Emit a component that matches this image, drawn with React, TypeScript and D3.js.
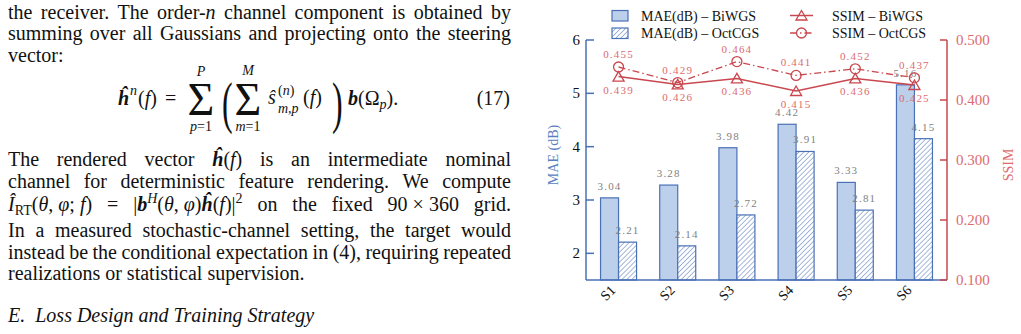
import React, { useEffect, useRef } from "react";
import * as d3 from "d3";

// chart data
const categories = ["S1", "S2", "S3", "S4", "S5", "S6"];
const maeBiWGS = [3.04, 3.28, 3.98, 4.42, 3.33, 5.16];
const maeOctCGS = [2.21, 2.14, 2.72, 3.91, 2.81, 4.15];
const ssimBiWGS = [0.439, 0.426, 0.436, 0.415, 0.436, 0.425];
const ssimOctCGS = [0.455, 0.429, 0.464, 0.441, 0.452, 0.437];
const maeTicks = [2, 3, 4, 5, 6];
const ssimTicks = [0.1, 0.2, 0.3, 0.4, 0.5];

const BLUE = "#4a70b6";
const BLUE_FILL = "#bccfeb";
const BLUE_TEXT = "#5b80c2";
const RED = "#c9474e";
const RED_TEXT = "#dd6b6e";
const GREY = "#7f7f7f";
const SERIF = "'Liberation Serif', 'Times New Roman', serif";

const plot = { left: 586, right: 947, top: 40, bottom: 280 };
const barW = 18;

const x = d3.scalePoint<string>().domain(categories).range([plot.left, plot.right]).padding(0.55);
const yMae = d3.scaleLinear().domain([1.5, 6]).range([plot.bottom, plot.top]);
const ySsim = d3.scaleLinear().domain([0.1, 0.5]).range([plot.bottom, plot.top]);

const ssimLine = d3
  .line<number>()
  .x((_, i) => x(categories[i])!)
  .y((d) => ySsim(d));

const triangle = "M0,-5L5.5,4.5L-5.5,4.5Z";
const dashDot = "7,3,1.5,3";

// body text of the page column, laid out word by word so lines can be justified
type Seg = { t: string; i?: boolean; b?: boolean; sub?: boolean; sup?: boolean };
type Word = string | Seg[];
type Line = { y: number; words: Word[]; justify: boolean };

const words = (s: string): Word[] => s.split(" ");
const colLeft = 8;
const colRight = 511;

const paragraph: Line[] = [
  {
    y: 18.5,
    justify: true,
    words: [...words("the receiver. The"), [{ t: "order-" }, { t: "n", i: true }], ...words("channel component is obtained by")],
  },
  { y: 40.2, justify: true, words: words("summing over all Gaussians and projecting onto the steering") },
  { y: 61.9, justify: false, words: words("vector:") },
  {
    y: 166,
    justify: true,
    words: [
      ...words("The rendered vector"),
      [{ t: "ĥ", b: true, i: true }, { t: "(" }, { t: "f", i: true }, { t: ")" }],
      ...words("is an intermediate nominal"),
    ],
  },
  { y: 188.3, justify: true, words: words("channel for deterministic feature rendering. We compute") },
  {
    y: 210.6,
    justify: true,
    words: [
      [
        { t: "Î", i: true },
        { t: "RT", sub: true },
        { t: "(" },
        { t: "θ", i: true },
        { t: ", " },
        { t: "φ", i: true },
        { t: "; " },
        { t: "f", i: true },
        { t: ")" },
      ],
      "=",
      [
        { t: "|" },
        { t: "b", b: true, i: true },
        { t: "H", sup: true, i: true },
        { t: "(" },
        { t: "θ", i: true },
        { t: ", " },
        { t: "φ", i: true },
        { t: ")" },
        { t: "ĥ", b: true, i: true },
        { t: "(" },
        { t: "f", i: true },
        { t: ")|" },
        { t: "2", sup: true },
      ],
      ...words("on the fixed"),
      [{ t: "90 × 360" }],
      "grid.",
    ],
  },
  { y: 237, justify: true, words: words("In a measured stochastic-channel setting, the target would") },
  { y: 258.7, justify: true, words: words("instead be the conditional expectation in (4), requiring repeated") },
  { y: 280.4, justify: false, words: words("realizations or statistical supervision.") },
];

const BodyText = () => {
  const ref = useRef<SVGGElement>(null);

  useEffect(() => {
    const g = d3.select(ref.current);
    g.selectAll("*").remove();

    paragraph.forEach((line) => {
      const nodes = line.words.map((word) => {
        const segs: Seg[] = typeof word === "string" ? [{ t: word }] : word;
        const t = g.append("text").attr("y", line.y).attr("font-size", 20).attr("font-family", SERIF).attr("fill", "#111");
        let shift = 0;
        segs.forEach((s) => {
          const target = s.sub ? 4 : s.sup ? -8 : 0;
          t.append("tspan")
            .attr("dy", target - shift)
            .attr("font-size", s.sub || s.sup ? 14 : 20)
            .attr("font-style", s.i ? "italic" : "normal")
            .attr("font-weight", s.b ? "bold" : "normal")
            .text(s.t);
          shift = target;
        });
        return t;
      });

      const widths = nodes.map((n) => (n.node() as SVGTextElement).getComputedTextLength());
      const total = d3.sum(widths);
      const gap = line.justify && nodes.length > 1 ? (colRight - colLeft - total) / (nodes.length - 1) : 5;
      let cx = colLeft;
      nodes.forEach((n, k) => {
        n.attr("x", cx);
        cx += widths[k] + gap;
      });
    });
  }, []);

  return (
    <g fontFamily={SERIF} fill="#111">
      <g ref={ref} />

      {/* equation (17) */}
      <text x={118} y={105} fontSize={20} fontWeight="bold" fontStyle="italic">ĥ</text>
      <text x={130} y={95} fontSize={14} fontStyle="italic">n</text>
      <text x={138} y={105} fontSize={20}>
        (<tspan fontStyle="italic">f</tspan>)
      </text>
      <text x={165} y={105} fontSize={20}>=</text>
      <text x={201} y={115} fontSize={46} textAnchor="middle">Σ</text>
      <text x={201} y={76} fontSize={14} fontStyle="italic" textAnchor="middle">P</text>
      <text x={201} y={131} fontSize={14} textAnchor="middle">
        <tspan fontStyle="italic">p</tspan>=1
      </text>
      <text transform="translate(222,122) scale(0.55,1)" fontSize={58}>(</text>
      <text x={248} y={115} fontSize={46} textAnchor="middle">Σ</text>
      <text x={248} y={75} fontSize={14} fontStyle="italic" textAnchor="middle">M</text>
      <text x={248} y={131} fontSize={14} textAnchor="middle">
        <tspan fontStyle="italic">m</tspan>=1
      </text>
      <text x={268} y={104} fontSize={20} fontStyle="italic">ŝ</text>
      <text x={278} y={95} fontSize={14}>
        (<tspan fontStyle="italic">n</tspan>)
      </text>
      <text x={278} y={113} fontSize={14} fontStyle="italic">m,p</text>
      <text x={303} y={104} fontSize={20}>
        (<tspan fontStyle="italic">f</tspan>)
      </text>
      <text transform="translate(332,122) scale(0.55,1)" fontSize={58}>)</text>
      <text x={348} y={105} fontSize={20}>
        <tspan fontWeight="bold" fontStyle="italic">b</tspan>(Ω<tspan fontSize={14} fontStyle="italic" dy={4}>p</tspan>
        <tspan dy={-4}>).</tspan>
      </text>
      <text x={510} y={105} fontSize={20} textAnchor="end">(17)</text>

      <text x={8} y={321.7} fontSize={20} fontStyle="italic">
        E.<tspan dx={10}>Loss Design and Training Strategy</tspan>
      </text>
    </g>
  );
};

const Chart = () => {
  const labelStyle = { fontSize: 11, letterSpacing: 1.2 } as const;
  return (
    <g fontFamily={SERIF}>
      <defs>
        <pattern id="hatch" patternUnits="userSpaceOnUse" width={3.5} height={3.5} patternTransform="rotate(45)">
          <rect width={3.5} height={3.5} fill="#fff" />
          <line x1={0} y1={0} x2={0} y2={3.5} stroke={BLUE} strokeWidth={1} />
        </pattern>
      </defs>

      {/* legend */}
      <rect x={612} y={10.5} width={16} height={10.5} fill={BLUE_FILL} stroke={BLUE} strokeWidth={1.2} />
      <rect x={612} y={28} width={16} height={10.5} fill="url(#hatch)" stroke={BLUE} strokeWidth={1.2} />
      <text x={641} y={20.5} fontSize={14} fill="#111">MAE(dB) – BiWGS</text>
      <text x={641} y={38} fontSize={14} fill="#111">MAE(dB) – OctCGS</text>
      <line x1={790} x2={813} y1={15.5} y2={15.5} stroke={RED} strokeWidth={1.5} />
      <path d={triangle} transform="translate(801.5,15.5)" fill="none" stroke={RED} strokeWidth={1.3} />
      <line x1={790} x2={813} y1={33} y2={33} stroke={RED} strokeWidth={1.3} strokeDasharray={dashDot} />
      <circle cx={801.5} cy={33} r={5} fill="none" stroke={RED} strokeWidth={1.3} />
      <text x={832} y={20.5} fontSize={14} fill="#111">SSIM – BiWGS</text>
      <text x={832} y={38} fontSize={14} fill="#111">SSIM – OctCGS</text>

      {/* bars */}
      {categories.map((c, i) => (
        <g key={c}>
          <rect
            x={x(c)! - barW}
            y={yMae(maeBiWGS[i])}
            width={barW}
            height={plot.bottom - yMae(maeBiWGS[i])}
            fill={BLUE_FILL}
            stroke={BLUE}
            strokeWidth={1.2}
          />
          <rect
            x={x(c)!}
            y={yMae(maeOctCGS[i])}
            width={barW}
            height={plot.bottom - yMae(maeOctCGS[i])}
            fill="url(#hatch)"
            stroke={BLUE}
            strokeWidth={1.2}
          />
          <text x={x(c)! - barW / 2} y={yMae(maeBiWGS[i]) - 8} textAnchor="middle" fill={GREY} style={labelStyle}>
            {maeBiWGS[i].toFixed(2)}
          </text>
          <text x={x(c)! + barW / 2} y={yMae(maeOctCGS[i]) - 8} textAnchor="middle" fill={GREY} style={labelStyle}>
            {maeOctCGS[i].toFixed(2)}
          </text>
        </g>
      ))}

      {/* left axis */}
      <line x1={plot.left} x2={plot.left} y1={plot.top} y2={plot.bottom} stroke={BLUE} strokeWidth={1.5} />
      <line x1={plot.left} x2={plot.right} y1={plot.bottom} y2={plot.bottom} stroke={BLUE} strokeWidth={1.5} />
      {maeTicks.map((t) => (
        <g key={t}>
          <line x1={plot.left} x2={plot.left + 8} y1={yMae(t)} y2={yMae(t)} stroke={BLUE} strokeWidth={1.5} />
          <text x={580} y={yMae(t) + 5} textAnchor="end" fontSize={15} fill="#111">
            {t}
          </text>
        </g>
      ))}
      <text transform="translate(558,155) rotate(-90)" textAnchor="middle" fontSize={14} fill={BLUE_TEXT}>
        MAE (dB)
      </text>

      {/* right axis */}
      <line x1={plot.right} x2={plot.right} y1={plot.top} y2={plot.bottom} stroke={RED} strokeWidth={1.5} />
      {ssimTicks.map((t) => (
        <g key={t}>
          <line x1={plot.right - 7} x2={plot.right} y1={ySsim(t)} y2={ySsim(t)} stroke={RED} strokeWidth={1.5} />
          <text x={956} y={ySsim(t) + 5} fontSize={15} fill={RED_TEXT}>
            {t.toFixed(3)}
          </text>
        </g>
      ))}
      <text transform="translate(1013,165) rotate(-90)" textAnchor="middle" fontSize={14} fill={RED_TEXT}>
        SSIM
      </text>

      {/* category labels */}
      {categories.map((c) => (
        <text
          key={c}
          transform={`translate(${x(c)! - 2},291) rotate(-45)`}
          textAnchor="end"
          fontSize={14}
          fill="#111"
        >
          {c}
        </text>
      ))}

      {/* SSIM lines */}
      <path d={ssimLine(ssimOctCGS)!} fill="none" stroke={RED} strokeWidth={1.3} strokeDasharray={dashDot} />
      <path d={ssimLine(ssimBiWGS)!} fill="none" stroke={RED} strokeWidth={1.5} />
      {categories.map((c, i) => (
        <g key={c}>
          <circle cx={x(c)!} cy={ySsim(ssimOctCGS[i])} r={5} fill="none" stroke={RED} strokeWidth={1.3} />
          <path
            d={triangle}
            transform={`translate(${x(c)!},${ySsim(ssimBiWGS[i])})`}
            fill="none"
            stroke={RED}
            strokeWidth={1.3}
          />
          <text x={x(c)!} y={ySsim(ssimOctCGS[i]) - 9} textAnchor="middle" fill={RED_TEXT} style={labelStyle}>
            {ssimOctCGS[i].toFixed(3)}
          </text>
          <text x={x(c)!} y={ySsim(ssimBiWGS[i]) + 17} textAnchor="middle" fill={RED_TEXT} style={labelStyle}>
            {ssimBiWGS[i].toFixed(3)}
          </text>
        </g>
      ))}
    </g>
  );
};

export default function App() {
  return (
    <svg width={1021} height={334} style={{ position: "absolute", left: 0, top: 0, background: "#fff" }}>
      <BodyText />
      <Chart />
    </svg>
  );
}
